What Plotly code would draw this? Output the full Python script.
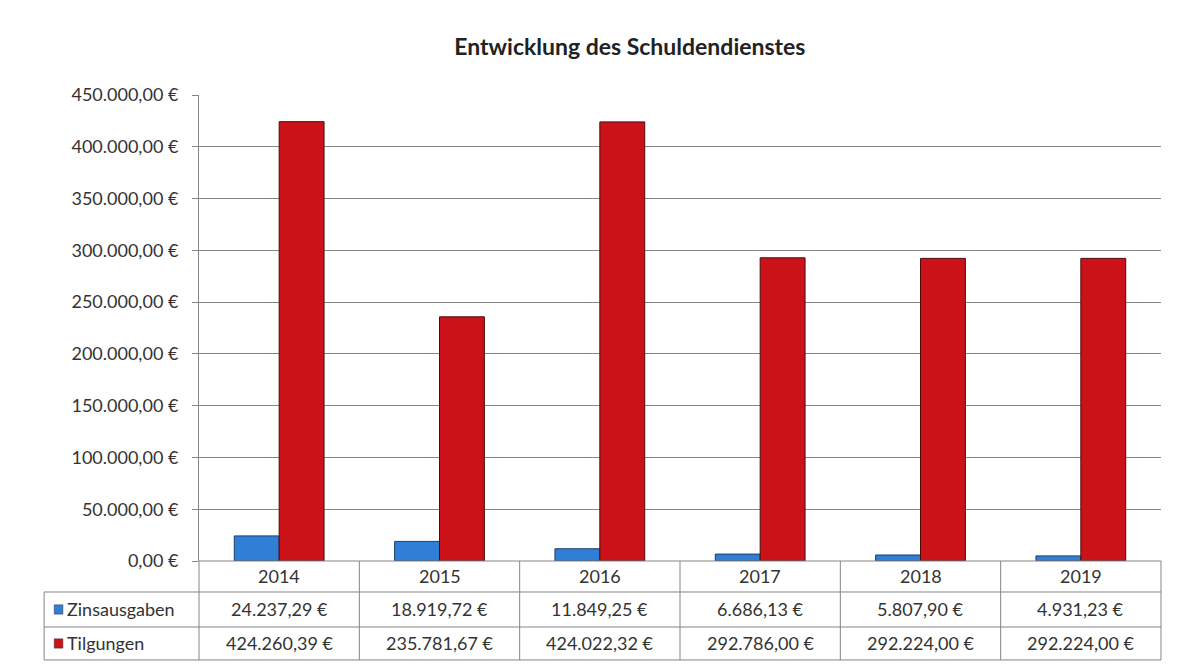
"""Entwicklung des Schuldendienstes - bar chart with data table"""

import plotly.graph_objects as go

years = ["2014", "2015", "2016", "2017", "2018", "2019"]
zinsausgaben = [24237.29, 18919.72, 11849.25, 6686.13, 5807.90, 4931.23]
tilgungen = [424260.39, 235781.67, 424022.32, 292786.00, 292224.00, 292224.00]
series_names = ["Zinsausgaben", "Tilgungen"]
y_ticks = [0, 50000, 100000, 150000, 200000, 250000, 300000, 350000, 400000, 450000]

BLUE = "#2f7fd6"
RED = "#cc1219"
GRID = "#858585"
TEXT = "#333333"
FONT = "Lato"
FS = 18


def euro(v):
    s = f"{v:,.2f}".replace(",", "X").replace(".", ",").replace("X", ".")
    return s + "\u00a0\u20ac"


fig = go.Figure()
fig.add_trace(go.Bar(x=years, y=zinsausgaben, name=series_names[0],
                     marker=dict(color=BLUE, line=dict(color="#1f3f66", width=1))))
fig.add_trace(go.Bar(x=years, y=tilgungen, name=series_names[1],
                     marker=dict(color=RED, line=dict(color="#4a0c0c", width=1))))

# table geometry (paper coords, plot area is 0..1)
rows_y = [0, -0.0665, -0.1416, -0.2124]
label_left = -0.161
n = len(years)

shapes = []
for yy in rows_y[1:]:
    shapes.append(dict(type="line", xref="paper", yref="paper", x0=label_left, x1=1,
                       y0=yy, y1=yy, line=dict(color=GRID, width=1)))
shapes.append(dict(type="line", xref="paper", yref="paper", x0=0, x1=1, y0=0, y1=0,
                   line=dict(color=GRID, width=1)))
for i in range(n + 1):
    shapes.append(dict(type="line", xref="paper", yref="paper", x0=i / n, x1=i / n,
                       y0=0, y1=rows_y[-1], line=dict(color=GRID, width=1)))
shapes.append(dict(type="line", xref="paper", yref="paper", x0=label_left, x1=label_left,
                   y0=rows_y[1], y1=rows_y[-1], line=dict(color=GRID, width=1)))

annotations = []
row_centers = [(rows_y[k] + rows_y[k + 1]) / 2 for k in range(3)]
cell_font = dict(size=FS, color=TEXT, family=FONT)
for i, yr in enumerate(years):
    for k, txt in enumerate([yr, euro(zinsausgaben[i]), euro(tilgungen[i])]):
        annotations.append(dict(x=i, xref="x", y=row_centers[k], yref="paper", text=txt,
                                xanchor="center", yanchor="middle", showarrow=False,
                                font=cell_font))

# legend keys inside the table label column
for k, (name, col) in enumerate(zip(series_names, [BLUE, RED])):
    yc = row_centers[k + 1]
    shapes.append(dict(type="rect", xref="paper", yref="paper",
                       x0=-0.1505, x1=-0.1415, y0=yc - 0.01, y1=yc + 0.01,
                       fillcolor=col, line=dict(color="#333333", width=0.5)))
    annotations.append(dict(x=-0.139, xref="paper", y=yc, yref="paper", text=name,
                            xanchor="left", yanchor="middle", showarrow=False,
                            font=cell_font))

fig.update_layout(
    width=1189,
    height=669,
    margin=dict(l=191, r=36, t=87, b=116),
    paper_bgcolor="white",
    plot_bgcolor="white",
    font=dict(family=FONT, color=TEXT),
    title=dict(text="<b>Entwicklung des Schuldendienstes</b>", x=0.523, xanchor="center",
               y=0.942, yanchor="middle", font=dict(size=23, color="#222222", family=FONT)),
    barmode="group",
    bargap=0.44,
    bargroupgap=0,
    showlegend=False,
    shapes=shapes,
    annotations=annotations,
    xaxis=dict(type="category", showticklabels=False, showgrid=False, showline=False,
               ticks="", range=[-0.5, n - 0.5]),
    yaxis=dict(range=[0, 450000], tickvals=y_ticks, ticktext=[euro(v) for v in y_ticks],
               showgrid=True, gridcolor=GRID, gridwidth=1, showline=True,
               linecolor=GRID, ticks="outside", ticklen=6, tickcolor=GRID,
               ticklabelstandoff=10, tickfont=dict(size=FS, color=TEXT), zeroline=False),
)

fig.write_html("out.html")
